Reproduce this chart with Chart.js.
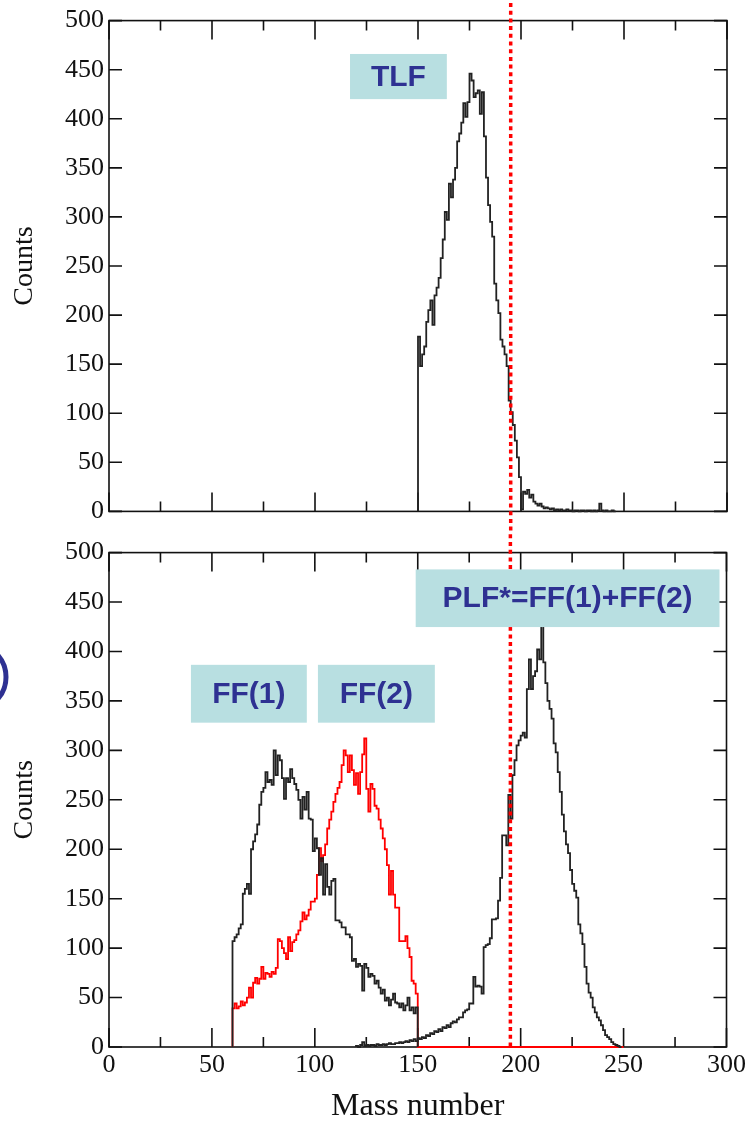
<!DOCTYPE html>
<html>
<head>
<meta charset="utf-8">
<title>Mass number distributions</title>
<script src="https://cdn.jsdelivr.net/npm/chart.js@4.4.0/dist/chart.umd.min.js"></script>
<style>
  html, body { margin: 0; padding: 0; background: #fff; }
  #wrap { position: relative; width: 749px; height: 1123px; overflow: hidden; }
  #topChart { position: absolute; left: 0; top: 0; }
  #bottomChart { position: absolute; left: 0; top: 532px; }
</style>
</head>
<body>
<div id="wrap">
  <canvas id="topChart" width="749" height="532"></canvas>
  <canvas id="bottomChart" width="749" height="591"></canvas>
</div>
<script>
'use strict';

// axis ticks
const massTicks = [0, 50, 100, 150, 200, 250, 300];
const countTicks = [0, 50, 100, 150, 200, 250, 300, 350, 400, 450, 500];

// red dotted cut line (mass number)
const cutMass = 195;

// top panel: TLF, one bin per mass number starting at tlfStart
const tlfStart = 150;
const tlfCounts = [
  178, 148, 160, 168, 193, 205, 215, 190, 220, 228,
  238, 258, 277, 305, 297, 334, 320, 338, 350, 377,
  385, 396, 416, 402, 417, 446, 439, 422, 426, 429,
  405, 427, 382, 340, 312, 295, 280, 232, 215, 202,
  175, 168, 160, 148, 113, 101, 88, 72, 55, 35,
  2, 20, 18, 22, 14, 17, 10, 8, 6, 8,
  5, 3, 4, 3, 2, 3, 1, 2, 1, 2,
  1, 1, 2, 1, 1, 0, 1, 1, 0, 1,
  1, 0, 1, 1, 0, 1, 0, 1, 8, 1,
  0, 1, 0, 0, 1, 0
];

// bottom panel: FF(1) (black)
const ff1Start = 60;
const ff1Counts = [
  107, 111, 114, 120, 124, 155, 160, 165, 155, 200,
  208, 215, 225, 245, 258, 262, 278, 268, 270, 265,
  300, 275, 295, 290, 272, 251, 272, 268, 281, 272,
  266, 260, 250, 231, 253, 240, 258, 231, 230, 198,
  211, 201, 174, 191, 154, 185, 162, 154, 168, 170,
  128, 128, 126, 121, 121, 114, 114, 111, 87, 89,
  81, 84, 82, 57, 84, 80, 71, 74, 72, 64,
  67, 60, 54, 58, 47, 50, 42, 48, 54, 45,
  44, 40, 44, 37, 42, 50, 37, 40, 34, 40
];

// bottom panel: FF(2) (red), zero from 150 up to ff2End
const ff2Start = 60;
const ff2End = 250;
const ff2Counts = [
  39, 44, 39, 41, 46, 42, 45, 50, 60, 50,
  65, 70, 64, 69, 81, 69, 75, 74, 71, 76,
  74, 80, 109, 107, 100, 95, 89, 111, 97, 106,
  108, 114, 118, 127, 136, 129, 133, 139, 147, 147,
  150, 174, 201, 188, 194, 205, 221, 230, 238, 248,
  256, 262, 268, 285, 300, 295, 278, 295, 280, 265,
  277, 256, 278, 296, 312, 261, 238, 266, 261, 244,
  241, 230, 221, 211, 200, 184, 154, 178, 154, 141,
  141, 107, 107, 107, 112, 100, 91, 67, 64, 54
];

// bottom panel: PLF* (black)
const plfStart = 120;
const plfCounts = [
  1, 0, 2, 5, 1, 2, 1, 2, 2, 1,
  3, 2, 2, 3, 2, 3, 4, 3, 3, 4,
  4, 5, 4, 5, 6, 5, 7, 6, 8, 6,
  9, 8, 10, 9, 12, 11, 14, 13, 16, 15,
  18, 16, 20, 19, 22, 20, 24, 26, 25, 28,
  30, 30, 35, 37, 38, 44, 44, 71, 61, 62,
  61, 54, 101, 103, 104, 110, 129, 129, 130, 148,
  171, 214, 214, 204, 255, 231, 275, 290, 305, 310,
  315, 318, 313, 362, 392, 362, 375, 380, 402, 392,
  440, 389, 368, 350, 342, 332, 307, 298, 278, 258,
  235, 218, 205, 196, 179, 165, 158, 151, 124, 115,
  104, 81, 64, 55, 50, 40, 35, 30, 27, 22,
  17, 12, 10, 8, 5, 3, 2, 1, 0
];

// label boxes, in data units of each panel
const topBoxes = [
  { text: 'TLF', x0: 117, x1: 164, y0: 420, y1: 466 }
];
const bottomBoxes = [
  { text: 'FF(1)', x0: 39.8, x1: 96.1, y0: 328, y1: 386.5 },
  { text: 'FF(2)', x0: 101.5, x1: 158.3, y0: 328, y1: 386.5 },
  { text: 'PLF*=FF(1)+FF(2)', x0: 149, x1: 296.6, y0: 424.7, y1: 483 }
];

const serif = 'Liberation Serif';
const navy = '#2e3192';

function makeSteps(start, counts, end) {
  let pts = [{ x: start, y: 0 }];
  for (let i = 0; i < counts.length; i++) {
    pts.push({ x: start + i, y: counts[i] });
  }
  pts.push({ x: start + counts.length, y: 0 });
  if (end) pts.push({ x: end, y: 0 });
  return pts;
}

function histSet(pts, color) {
  return {
    data: pts,
    borderColor: color,
    borderWidth: 1.8,
    stepped: 'before',
    pointRadius: 0,
    fill: false,
    clip: 3
  };
}

// frame with inward ticks on all four sides
let framePlugin = {
  id: 'frame',
  beforeDatasetsDraw(chart) {
    let ctx = chart.ctx;
    let a = chart.chartArea;
    let xs = chart.scales.x;
    let ys = chart.scales.y;
    ctx.save();
    ctx.strokeStyle = '#111';
    ctx.lineWidth = 1.6;
    ctx.strokeRect(a.left, a.top, a.right - a.left, a.bottom - a.top);
    ctx.beginPath();
    xs.ticks.forEach((t, i) => {
      let px = xs.getPixelForValue(t.value);
      ctx.moveTo(px, a.bottom); ctx.lineTo(px, a.bottom - 19);
      ctx.moveTo(px, a.top); ctx.lineTo(px, a.top + 19);
      if (i < xs.ticks.length - 1) {
        let mx = xs.getPixelForValue((t.value + xs.ticks[i + 1].value) / 2);
        ctx.moveTo(mx, a.bottom); ctx.lineTo(mx, a.bottom - 10);
        ctx.moveTo(mx, a.top); ctx.lineTo(mx, a.top + 10);
      }
    });
    ys.ticks.forEach(t => {
      let py = ys.getPixelForValue(t.value);
      ctx.moveTo(a.left, py); ctx.lineTo(a.left + 13, py);
      ctx.moveTo(a.right, py); ctx.lineTo(a.right - 13, py);
    });
    ctx.stroke();
    ctx.restore();
  }
};

// dotted cut line, label boxes, stray mark at the left edge
let marksPlugin = {
  id: 'marks',
  afterDatasetsDraw(chart, args, opts) {
    let ctx = chart.ctx;
    let a = chart.chartArea;
    let xs = chart.scales.x;
    let ys = chart.scales.y;
    ctx.save();

    let cx = xs.getPixelForValue(cutMass);
    ctx.strokeStyle = '#ff0000';
    ctx.lineWidth = 3.5;
    ctx.setLineDash([4, 3.7]);
    ctx.lineDashOffset = opts.dashOffset || 0;
    ctx.beginPath();
    ctx.moveTo(cx, opts.lineTop);
    ctx.lineTo(cx, opts.lineBottom === 'area' ? a.bottom : chart.height);
    ctx.stroke();
    ctx.setLineDash([]);

    (opts.boxes || []).forEach(b => {
      let x0 = xs.getPixelForValue(b.x0);
      let x1 = xs.getPixelForValue(b.x1);
      let y0 = ys.getPixelForValue(b.y1);
      let y1 = ys.getPixelForValue(b.y0);
      ctx.fillStyle = '#b8dfe1';
      ctx.fillRect(x0, y0, x1 - x0, y1 - y0);
      ctx.fillStyle = navy;
      ctx.font = 'bold 30px "Liberation Sans", Arial, sans-serif';
      ctx.textAlign = 'center';
      ctx.textBaseline = 'middle';
      ctx.fillText(b.text, (x0 + x1) / 2, (y0 + y1) / 2 + 1);
    });

    if (opts.edgeMark) {
      ctx.strokeStyle = navy;
      ctx.lineWidth = 5;
      ctx.beginPath();
      ctx.ellipse(-20, opts.edgeMark, 26, 30, 0, -Math.PI / 2, Math.PI / 2);
      ctx.stroke();
    }
    ctx.restore();
  }
};

function makeOptions(showX, xHeight, padTop, marks) {
  return {
    responsive: false,
    animation: false,
    layout: { padding: { top: padTop, right: 22, left: 0, bottom: 0 } },
    plugins: {
      legend: { display: false },
      tooltip: { enabled: false },
      marks: marks
    },
    scales: {
      x: {
        type: 'linear',
        min: 0,
        max: 300,
        grid: { display: false, drawTicks: false },
        border: { display: false },
        afterBuildTicks: s => { s.ticks = massTicks.map(v => ({ value: v })); },
        afterFit: s => { s.height = xHeight; },
        ticks: {
          display: showX,
          padding: 3,
          color: '#111',
          maxRotation: 0,
          font: { family: serif, size: 26 }
        },
        title: {
          display: showX,
          text: 'Mass number',
          color: '#111',
          padding: { top: 0, bottom: 0 },
          font: { family: serif, size: 32, lineHeight: 1 }
        }
      },
      y: {
        type: 'linear',
        min: 0,
        max: 500,
        grid: { display: false, drawTicks: false },
        border: { display: false },
        afterBuildTicks: s => { s.ticks = countTicks.map(v => ({ value: v })); },
        afterFit: s => { s.width = 109; },
        ticks: {
          padding: 5,
          color: '#111',
          font: { family: serif, size: 26 }
        },
        title: {
          display: true,
          text: 'Counts',
          color: '#111',
          padding: { top: 8, bottom: 0 },
          font: { family: serif, size: 28 }
        }
      }
    }
  };
}

function renderCharts() {
  new Chart(document.getElementById('topChart'), {
    type: 'line',
    data: {
      datasets: [histSet(makeSteps(tlfStart, tlfCounts), '#222')]
    },
    options: makeOptions(false, 18, 16, {
      boxes: topBoxes, lineTop: 3, lineBottom: 'canvas'
    }),
    plugins: [framePlugin, marksPlugin]
  });

  new Chart(document.getElementById('bottomChart'), {
    type: 'line',
    data: {
      datasets: [
        histSet(makeSteps(ff1Start, ff1Counts), '#222'),
        histSet(makeSteps(plfStart, plfCounts), '#222'),
        histSet(makeSteps(ff2Start, ff2Counts, ff2End), '#ff0000')
      ]
    },
    options: makeOptions(true, 76, 17, {
      boxes: bottomBoxes, lineTop: 0, lineBottom: 'area',
      dashOffset: (532 - 3) % 7.7, edgeMark: 145
    }),
    plugins: [framePlugin, marksPlugin]
  });
}

renderCharts();
</script>
</body>
</html>
